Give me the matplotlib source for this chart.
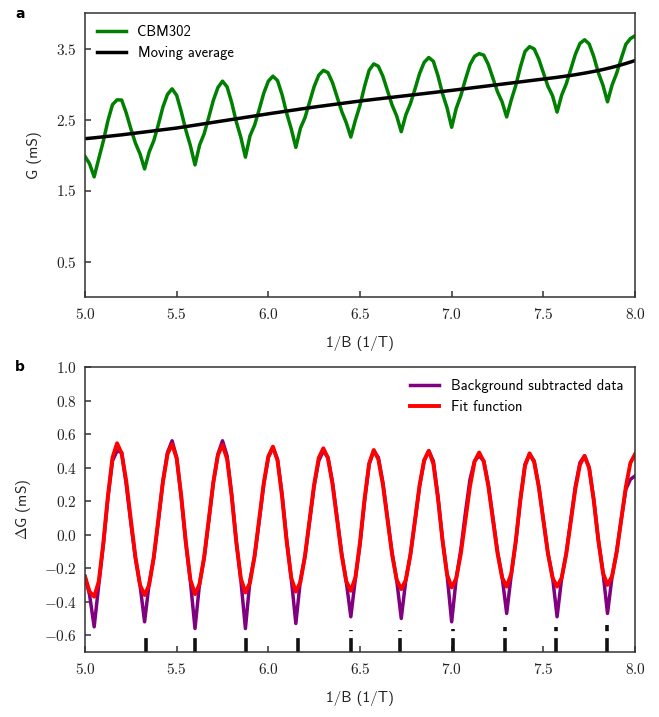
import numpy as np
import matplotlib
matplotlib.use('Agg')
import matplotlib.pyplot as plt
from matplotlib.ticker import FuncFormatter, FixedLocator

plt.rcParams['mathtext.fontset'] = 'cm'
plt.rcParams['lines.scale_dashes'] = False

# ---------------- data ----------------
# sample positions 1/B (1/T), step 0.025 from 5.0 to 8.0
inv_b = np.round(5.0 + 0.025 * np.arange(121), 3)

# moving average (background), mS
moving_avg = [
    2.230, 2.236, 2.242, 2.249, 2.256, 2.263, 2.270, 2.277, 2.284, 2.292, 2.300,
    2.308, 2.316, 2.324, 2.332, 2.340, 2.348, 2.356, 2.364, 2.372, 2.380,
    2.390, 2.400, 2.410, 2.420, 2.430, 2.440, 2.450, 2.460, 2.470, 2.480,
    2.490, 2.500, 2.510, 2.520, 2.530, 2.540, 2.550, 2.560, 2.570, 2.580,
    2.590, 2.599, 2.609, 2.618, 2.628, 2.637, 2.647, 2.656, 2.666, 2.675,
    2.684, 2.692, 2.701, 2.709, 2.718, 2.726, 2.735, 2.743, 2.752, 2.760,
    2.768, 2.775, 2.783, 2.790, 2.798, 2.805, 2.813, 2.820, 2.828, 2.835,
    2.843, 2.850, 2.858, 2.865, 2.873, 2.880, 2.888, 2.895, 2.903, 2.910,
    2.918, 2.926, 2.934, 2.942, 2.950, 2.958, 2.966, 2.974, 2.982, 2.990,
    2.998, 3.006, 3.014, 3.022, 3.030, 3.038, 3.046, 3.054, 3.062, 3.070,
    3.078, 3.086, 3.094, 3.103, 3.112, 3.121, 3.131, 3.142, 3.153, 3.165,
    3.177, 3.190, 3.204, 3.219, 3.235, 3.252, 3.270, 3.289, 3.309, 3.330,
]

# background subtracted data, mS
delta_g = [
    -0.25, -0.36, -0.55, -0.30, -0.06, 0.22, 0.44, 0.50, 0.49, 0.30,
    0.07, -0.14, -0.30, -0.52, -0.29, -0.14, 0.08, 0.32, 0.49, 0.56,
    0.46, 0.22, -0.05, -0.28, -0.56, -0.29, -0.14, 0.08, 0.31, 0.48,
    0.56, 0.47, 0.24, -0.04, -0.27, -0.56, -0.27, -0.13, 0.08, 0.30,
    0.46, 0.52, 0.45, 0.24, -0.03, -0.26, -0.53, -0.27, -0.13, 0.08,
    0.29, 0.44, 0.50, 0.46, 0.31, 0.10, -0.11, -0.28, -0.49, -0.26,
    -0.06, 0.20, 0.42, 0.50, 0.46, 0.31, 0.10, -0.11, -0.27, -0.50,
    -0.27, -0.12, 0.08, 0.29, 0.44, 0.50, 0.44, 0.23, -0.03, -0.24,
    -0.52, -0.26, -0.09, 0.13, 0.33, 0.44, 0.47, 0.44, 0.30, 0.10,
    -0.10, -0.25, -0.47, -0.24, -0.04, 0.21, 0.42, 0.48, 0.44, 0.29,
    0.09, -0.11, -0.25, -0.49, -0.26, -0.11, 0.09, 0.29, 0.43, 0.47,
    0.40, 0.21, -0.03, -0.22, -0.47, -0.25, -0.10, 0.09, 0.27, 0.33,
    0.35,
]

# fit function, mS
fit_g = [
    -0.25, -0.34, -0.37, -0.28, -0.05, 0.23, 0.46, 0.545, 0.484, 0.319,
    0.09, -0.134, -0.30, -0.36, -0.30, -0.135, 0.09, 0.315, 0.48, 0.54,
    0.455, 0.231, -0.046, -0.27, -0.355, -0.295, -0.1325, 0.09, 0.3125, 0.475,
    0.535, 0.451, 0.231, -0.041, -0.261, -0.345, -0.287, -0.127, 0.09, 0.307,
    0.467, 0.525, 0.443, 0.227, -0.042, -0.258, -0.34, -0.283, -0.126, 0.0875,
    0.301, 0.458, 0.515, 0.458, 0.3025, 0.09, -0.1225, -0.278, -0.335, -0.255,
    -0.045, 0.215, 0.425, 0.505, 0.449, 0.2975, 0.09, -0.1175, -0.269, -0.325,
    -0.27, -0.119, 0.0875, 0.294, 0.445, 0.50, 0.423, 0.219, -0.034, -0.238,
    -0.315, -0.261, -0.114, 0.0875, 0.289, 0.436, 0.49, 0.436, 0.29, 0.09,
    -0.11, -0.256, -0.31, -0.234, -0.036, 0.211, 0.41, 0.485, 0.432, 0.286,
    0.0875, -0.111, -0.257, -0.31, -0.258, -0.115, 0.08, 0.275, 0.418, 0.47,
    0.397, 0.204, -0.034, -0.227, -0.30, -0.248, -0.105, 0.09, 0.285, 0.428,
    0.48,
]

# markers of the minima positions (bottom of panel b)
min_pos = [5.33, 5.60, 5.88, 6.16, 6.45, 6.72, 7.01, 7.29, 7.57, 7.85]
min_mark_top = [-0.618, -0.618, -0.618, -0.618, -0.57, -0.57, -0.565, -0.55, -0.55, -0.54]

g_total = np.array(moving_avg) + np.array(delta_g)

xticks = [5.0, 5.5, 6.0, 6.5, 7.0, 7.5, 8.0]
yticks_a = [0.5, 1.5, 2.5, 3.5]
yticks_b = [-0.6, -0.4, -0.2, 0.0, 0.2, 0.4, 0.6, 0.8, 1.0]

# ---------------- figure ----------------
W, H = 659, 717
fig = plt.figure(figsize=(W / 100, H / 100), dpi=100)

def px_axes(l, t, r, b):
    return fig.add_axes([l / W, 1 - b / H, (r - l) / W, (b - t) / H])

ax_a = px_axes(85, 13, 635, 297)
ax_b = px_axes(85, 367, 635, 652)

sans = 'cmss10'
fmt = FuncFormatter(lambda v, p: r'$%.1f$' % v)
spine_col = '#333333'

def style(ax):
    for s in ax.spines.values():
        s.set_color(spine_col)
        s.set_linewidth(1.1)
    ax.tick_params(direction='in', length=4, width=1.1, colors=spine_col,
                   labelcolor='#222222', labelsize=11, top=False, right=False)
    ax.tick_params(axis='x', pad=7)
    ax.tick_params(axis='y', pad=6)
    ax.xaxis.set_major_formatter(fmt)
    ax.yaxis.set_major_formatter(fmt)
    ax.set_xlim(5.0, 8.0)
    ax.xaxis.set_major_locator(FixedLocator(xticks))

# panel a
ax_a.plot(inv_b, g_total, color='#008000', lw=2.5, label='CBM302')
ax_a.plot(inv_b, moving_avg, color='black', lw=2.5, label='Moving average')
style(ax_a)
ax_a.set_ylim(0, 4.0)
ax_a.yaxis.set_major_locator(FixedLocator(yticks_a))
ax_a.set_ylabel('G (mS)', family=sans, fontsize=11, color='#222222', labelpad=10)
ax_a.set_xlabel('1/B (1/T)', family=sans, fontsize=11, color='#222222', labelpad=10)
ax_a.legend(loc='upper left', frameon=False, prop={'family': sans, 'size': 10.5},
            handlelength=2.0, borderaxespad=0.4)

# panel b
ax_b.plot(inv_b, delta_g, color='#800080', lw=2.5, label='Background subtracted data')
ax_b.plot(inv_b, fit_g, color='#ff0000', lw=2.8, label='Fit function')
ax_b.vlines(min_pos, -0.7, min_mark_top, colors='#111111', lw=2.6,
            linestyles=[(0, (10.0, 5.0))])
style(ax_b)
ax_b.set_ylim(-0.7, 1.0)
ax_b.yaxis.set_major_locator(FixedLocator(yticks_b))
ax_b.set_ylabel(r'$\Delta$G (mS)', family=sans, fontsize=11, color='#222222', labelpad=8)
ax_b.set_xlabel('1/B (1/T)', family=sans, fontsize=11, color='#222222', labelpad=10)
ax_b.legend(loc='upper right', frameon=False, prop={'family': sans, 'size': 10.5},
            handlelength=2.0, borderaxespad=0.4)

fig.text(15 / W, 1 - 14 / H, 'a', fontsize=10, fontweight='bold', family='DejaVu Sans',
         va='center', ha='left')
fig.text(15 / W, 1 - 367 / H, 'b', fontsize=10, fontweight='bold', family='DejaVu Sans',
         va='center', ha='left')

fig.savefig('out.png', dpi=100)
